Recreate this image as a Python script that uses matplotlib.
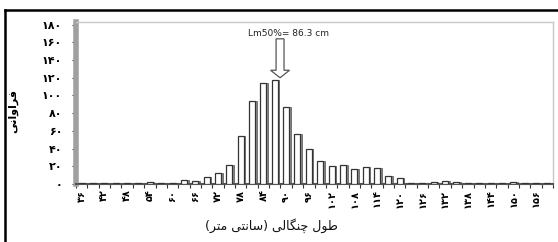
import numpy as np
import matplotlib
matplotlib.use('Agg')
import matplotlib.pyplot as plt
from matplotlib.patches import FancyArrow
from matplotlib.lines import Line2D

# fork length classes (cm) and fish counts
lengths = np.arange(36, 160, 3)
counts = [1, 1, 1, 1, 1, 1, 2, 1, 1, 5, 3, 8, 12, 22, 54, 94, 114, 118, 87, 56,
          40, 26, 20, 21, 17, 19, 18, 9, 7, 1, 1, 2, 3, 2, 1, 1, 1, 1, 2, 1, 1, 1]
yticks = list(range(0, 181, 20))
lm50 = 86.3

ylabel = 'فراوانی'
xlabel = 'طول چنگالی (سانتی متر)'

# matplotlib does no arabic shaping -> pick presentation forms by hand
# (isolated, final, initial, medial)
FORMS = {
    '\u0641': (0xFED1, 0xFED2, 0xFED3, 0xFED4),
    '\u0631': (0xFEAD, 0xFEAE),
    '\u0627': (0xFE8D, 0xFE8E),
    '\u0648': (0xFEED, 0xFEEE),
    '\u0646': (0xFEE5, 0xFEE6, 0xFEE7, 0xFEE8),
    '\u06CC': (0xFBFC, 0xFBFD, 0xFBFE, 0xFBFF),
    '\u064A': (0xFBFC, 0xFBFD, 0xFBFE, 0xFBFF),
    '\u0637': (0xFEC1, 0xFEC2, 0xFEC3, 0xFEC4),
    '\u0644': (0xFEDD, 0xFEDE, 0xFEDF, 0xFEE0),
    '\u0686': (0xFB7A, 0xFB7B, 0xFB7C, 0xFB7D),
    '\u06AF': (0xFB92, 0xFB93, 0xFB94, 0xFB95),
    '\u0633': (0xFEB1, 0xFEB2, 0xFEB3, 0xFEB4),
    '\u062A': (0xFE95, 0xFE96, 0xFE97, 0xFE98),
    '\u0645': (0xFEE1, 0xFEE2, 0xFEE3, 0xFEE4),
}


def shape(s):
    out = []
    for i, ch in enumerate(s):
        f = FORMS.get(ch)
        if f is None:
            out.append(ch)
            continue
        prev = s[i - 1] if i > 0 else ''
        nxt = s[i + 1] if i + 1 < len(s) else ''
        jp = prev in FORMS and len(FORMS[prev]) == 4
        jn = len(f) == 4 and nxt in FORMS
        idx = {(False, False): 0, (True, False): 1, (False, True): 2, (True, True): 3}[(jp, jn)]
        out.append(chr(f[idx]))
    vis = ''.join(reversed(out))
    return vis.translate(str.maketrans('()', ')('))


def fa_digits(n):
    return str(n).translate(str.maketrans('0123456789', '۰۱۲۳۴۵۶۷۸۹'))


fig = plt.figure(figsize=(5.58, 2.42), dpi=100)
ax = fig.add_axes([76 / 558, 58 / 242, 477 / 558, 162 / 242])

# pseudo 3d columns: gray side face + white front
ax.bar(lengths + 0.95, counts, width=0.55, color='#8a8a8a', edgecolor='#555555', linewidth=0.5, zorder=2)
ax.bar(lengths, counts, width=1.6, color='white', edgecolor='#333333', linewidth=0.9, zorder=3)

ax.set_xlim(34.5, 160.5)
ax.set_ylim(0, 183)

ax.set_xticks(lengths[::2])
ax.set_xticklabels([fa_digits(v) for v in lengths[::2]], rotation=90, fontsize=7, fontweight='bold')
ax.set_xticks(np.arange(34.5, 161, 3), minor=True)
ax.tick_params(axis='x', which='major', length=0, pad=4)
ax.tick_params(axis='x', which='minor', length=3, width=0.8, color='#333333')

ax.set_yticks(yticks)
ax.set_yticklabels([fa_digits(v) for v in yticks], fontsize=8, fontweight='bold')
ax.tick_params(axis='y', length=3, width=0.8, color='#333333', pad=7)

for side in ['top', 'right']:
    ax.spines[side].set_color('#c8c8c8')
    ax.spines[side].set_linewidth(1.0)
ax.spines['left'].set_color('#a0a0a0')
ax.spines['left'].set_linewidth(4)
ax.spines['bottom'].set_color('#555555')
ax.spines['bottom'].set_linewidth(1.5)

# Lm50 arrow and note
arr = FancyArrow(88.4, 164, 0, -44, width=2.1, head_width=5.0, head_length=8.5,
                 length_includes_head=True, facecolor='white', edgecolor='#555555',
                 linewidth=0.9, zorder=4, clip_on=False)
ax.add_patch(arr)
ax.text(90.7, 170.5, 'Lm50%= {} cm'.format(lm50), ha='center', va='center',
        fontsize=6.5, color='#222222', clip_on=False)

fig.text(271 / 558, 1 - 226 / 242, shape(xlabel), ha='center', va='center',
         fontsize=9, color='#111111', fontfamily='DejaVu Sans')
fig.text(13 / 558, 1 - 111 / 242, shape(ylabel), ha='center', va='center',
         rotation=90, fontsize=8, fontweight='bold', fontfamily='DejaVu Sans')

# outer frame (only top and left edges are visible in the crop)
fig.add_artist(Line2D([4.5 / 558, 4.5 / 558], [0, 1 - 9.5 / 242], color='black', linewidth=1.8))
fig.add_artist(Line2D([4.5 / 558, 1], [1 - 9.5 / 242, 1 - 9.5 / 242], color='black', linewidth=1.8))

fig.savefig('out.png', dpi=100)
